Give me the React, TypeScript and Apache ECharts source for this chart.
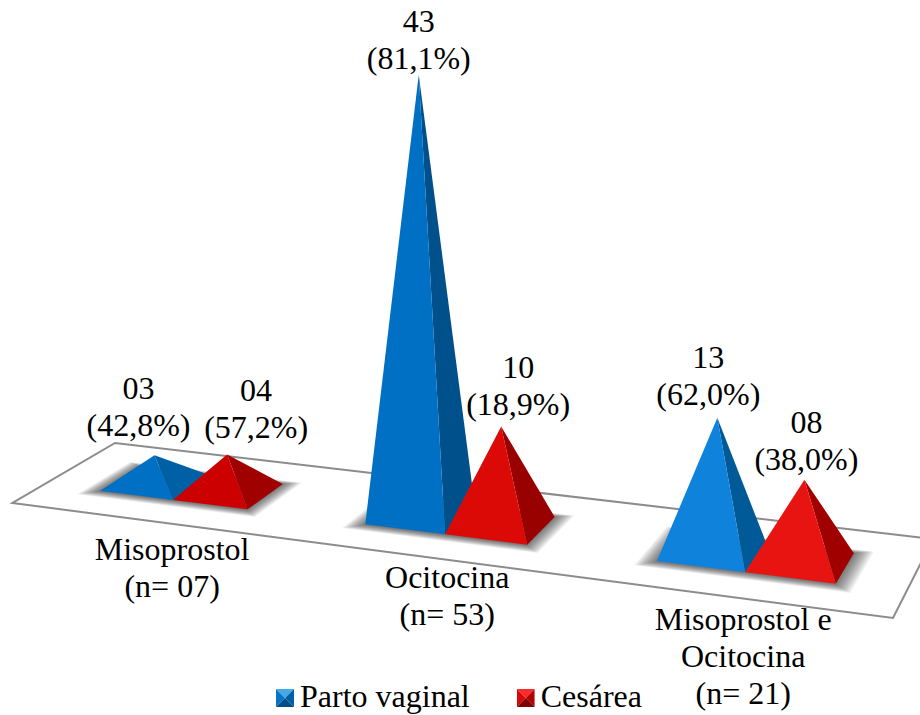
import React, { useEffect, useRef } from "react";
import * as echarts from "echarts";

const categories = ["Misoprostol\n(n= 07)", "Ocitocina\n(n= 53)", "Misoprostol e\nOcitocina\n(n= 21)"];
const seriesNames = ["Parto vaginal", "Cesárea"];
const partoVaginal = [3, 43, 13];
const cesarea = [4, 10, 8];
const partoLabels = ["03\n(42,8%)", "43\n(81,1%)", "13\n(62,0%)"];
const cesareaLabels = ["04\n(57,2%)", "10\n(18,9%)", "08\n(38,0%)"];

const FONT = "'Liberation Serif', 'Times New Roman', serif";
const FONT_SIZE = 32;
const LINE = 37;

// floor plane homography (unit square -> screen), fitted to the floor's four corners
const H = { a: 756.0, b: 112.07, c: 12.5, d: 28.85, e: -23.14, f: 503, g: -0.1394, h: 0.0832 };
const project = (u: number, v: number) => {
  const w = H.g * u + H.h * v + 1;
  return [(H.a * u + H.b * v + H.c) / w, (H.d * u + H.e * v + H.f) / w, w];
};
const W = 920;
const PYR = 0.0945;
const V0 = 0.303;
const V1 = 0.697;
const CENTER_SHIFT = 0.001;

const faces = [
  { front: ["#0070C4", "#0070C4", "#0F82DC"], side: ["#0060A6", "#00508C", "#005A98"] },
  { front: ["#CC0000", "#DC0A06", "#E81411"], side: ["#A00000", "#990000", "#A00000"] },
];
const labelNudge = [
  [[-16, -11.5], [0, 1.5], [-9, -5.5]],
  [[29, -8.5], [17, -4.5], [2, -2.5]],
];
const catNudge = [
  [0, 49],
  [3, 43],
  [-1, 47],
];
const SHADOW_LAYERS = 14;

const marker = (top: string, mid: string, bot: string, sideR: string) =>
  "image://data:image/svg+xml," +
  encodeURIComponent(
    `<svg xmlns="http://www.w3.org/2000/svg" width="18" height="24" viewBox="0 0 18 24"><g transform="translate(0 5)">` +
      `<polygon points="0,0 18,0 9,9" fill="${top}"/><polygon points="0,0 0,18 9,9" fill="${mid}"/>` +
      `<polygon points="18,0 18,18 9,9" fill="${sideR}"/><polygon points="0,18 18,18 9,9" fill="${bot}"/></g></svg>`
  );

function baseCorners(api: any, slot: number) {
  const uc = api.coord([api.value(0), 0])[0] / W + CENTER_SHIFT;
  const u0 = slot === 0 ? uc - PYR : uc;
  const u1 = u0 + PYR;
  return { u0, u1, FL: project(u0, V0), FR: project(u1, V0), R: project(u1, V1), BL: project(u0, V1) };
}
const xy = (p: number[]) => [p[0], p[1]];

const pyramidRender = (slot: number, labels: string[]) => (params: any, api: any) => {
  const cat = api.value(0);
  const val = api.value(1);
  const { u0, u1, FL, FR, R } = baseCorners(api, slot);
  const c = project((u0 + u1) / 2, 0.5);
  const hPx = (api.size([0, val])[1] * (1 + 0.00155 * val)) / c[2];
  const apex = [c[0] + ((c[0] - 450) * 0.015 * hPx) / 100, c[1] - hPx];
  const [nx, ny] = labelNudge[slot][cat];
  return {
    type: "group",
    children: [
      { type: "polygon", shape: { points: [xy(FR), xy(R), apex] }, style: { fill: faces[slot].side[cat] } },
      { type: "polygon", shape: { points: [xy(FL), xy(FR), apex] }, style: { fill: faces[slot].front[cat] } },
      {
        type: "text",
        x: apex[0] + nx,
        y: apex[1] + ny,
        style: {
          text: labels[cat],
          font: `${FONT_SIZE}px ${FONT}`,
          lineHeight: LINE,
          fill: "#000",
          align: "center",
          verticalAlign: "bottom",
        },
      },
    ],
  };
};

export default function App() {
  const ref = useRef<HTMLDivElement>(null);
  useEffect(() => {
    document.body.style.margin = "0";
    const chart = echarts.init(ref.current!, undefined, { renderer: "svg" });
    const cats = categories.map((_, i) => i);
    chart.setOption({
      animation: false,
      backgroundColor: "#fff",
      grid: { left: 0, right: 0, top: 0, bottom: 0 },
      xAxis: { type: "category", data: categories, show: false },
      yAxis: { type: "value", min: 0, max: 76, show: false },
      legend: {
        data: [
          { name: seriesNames[0], icon: marker("#45A8EA", "#0A74C4", "#004E88", "#0060A6") },
          { name: seriesNames[1], icon: marker("#FF2A2A", "#D80808", "#7E0000", "#B00000") },
        ],
        left: 276,
        top: 680,
        padding: 0,
        itemWidth: 18,
        itemHeight: 24,
        itemGap: 47,
        textStyle: { fontFamily: FONT, fontSize: FONT_SIZE, color: "#000", padding: [0, 0, 0, 1] },
      },
      series: [
        {
          type: "custom",
          name: "floor",
          coordinateSystem: "cartesian2d",
          z: 1,
          silent: true,
          clip: false,
          data: [[0, 0]],
          encode: { x: 0, y: 1 },
          renderItem: () => ({
            type: "polygon",
            shape: { points: [project(0, 0), project(1, 0), project(1, 1), project(0, 1)].map(xy) },
            style: { fill: "#fff", stroke: "#8C8C8C", lineWidth: 2 },
          }),
        },
        {
          type: "custom",
          name: "shadow",
          z: 2,
          silent: true,
          clip: false,
          data: cats.map((c) => [c, 0]),
          encode: { x: 0, y: 1 },
          renderItem: (_: any, api: any) => {
            const a = baseCorners(api, 0);
            const b = baseCorners(api, 1);
            const children = [];
            for (let i = SHADOW_LAYERS; i >= 1; i--) {
              const t = i / SHADOW_LAYERS;
              const eu = 0.021 * t - 0.002;
              const ev0 = 0.085 * t;
              const ev1 = 0.05 * t;
              children.push({
                type: "polygon",
                shape: {
                  points: [
                    project(a.u0 - eu, V0 - ev0),
                    project(b.u1 + eu, V0 - ev0),
                    project(b.u1 + eu, V1 + ev1),
                    project(a.u0 - eu, V1 + ev1),
                  ].map(xy),
                },
                style: { fill: "rgba(0,0,0,0.05)" },
              });
            }
            return { type: "group", children };
          },
        },
        {
          type: "custom",
          name: seriesNames[0],
          z: 3,
          clip: false,
          itemStyle: { color: "#0070C4" },
          data: partoVaginal.map((v, i) => [i, v]),
          encode: { x: 0, y: 1 },
          renderItem: pyramidRender(0, partoLabels),
        },
        {
          type: "custom",
          name: seriesNames[1],
          z: 4,
          clip: false,
          itemStyle: { color: "#CC0000" },
          data: cesarea.map((v, i) => [i, v]),
          encode: { x: 0, y: 1 },
          renderItem: pyramidRender(1, cesareaLabels),
        },
        {
          type: "custom",
          name: "categories",
          z: 5,
          silent: true,
          clip: false,
          data: cats.map((c) => [c, 0]),
          encode: { x: 0, y: 1 },
          renderItem: (_: any, api: any) => {
            const cat = api.value(0);
            const p = project(api.coord([cat, 0])[0] / W, V0);
            return {
              type: "text",
              x: p[0] + catNudge[cat][0],
              y: p[1] + catNudge[cat][1] - LINE / 2,
              style: {
                text: categories[cat],
                font: `${FONT_SIZE}px ${FONT}`,
                lineHeight: LINE,
                fill: "#000",
                align: "center",
                verticalAlign: "top",
              },
            };
          },
        },
      ],
    });
    return () => chart.dispose();
  }, []);
  return <div ref={ref} style={{ position: "absolute", left: 0, top: 0, width: 920, height: 715 }} />;
}
